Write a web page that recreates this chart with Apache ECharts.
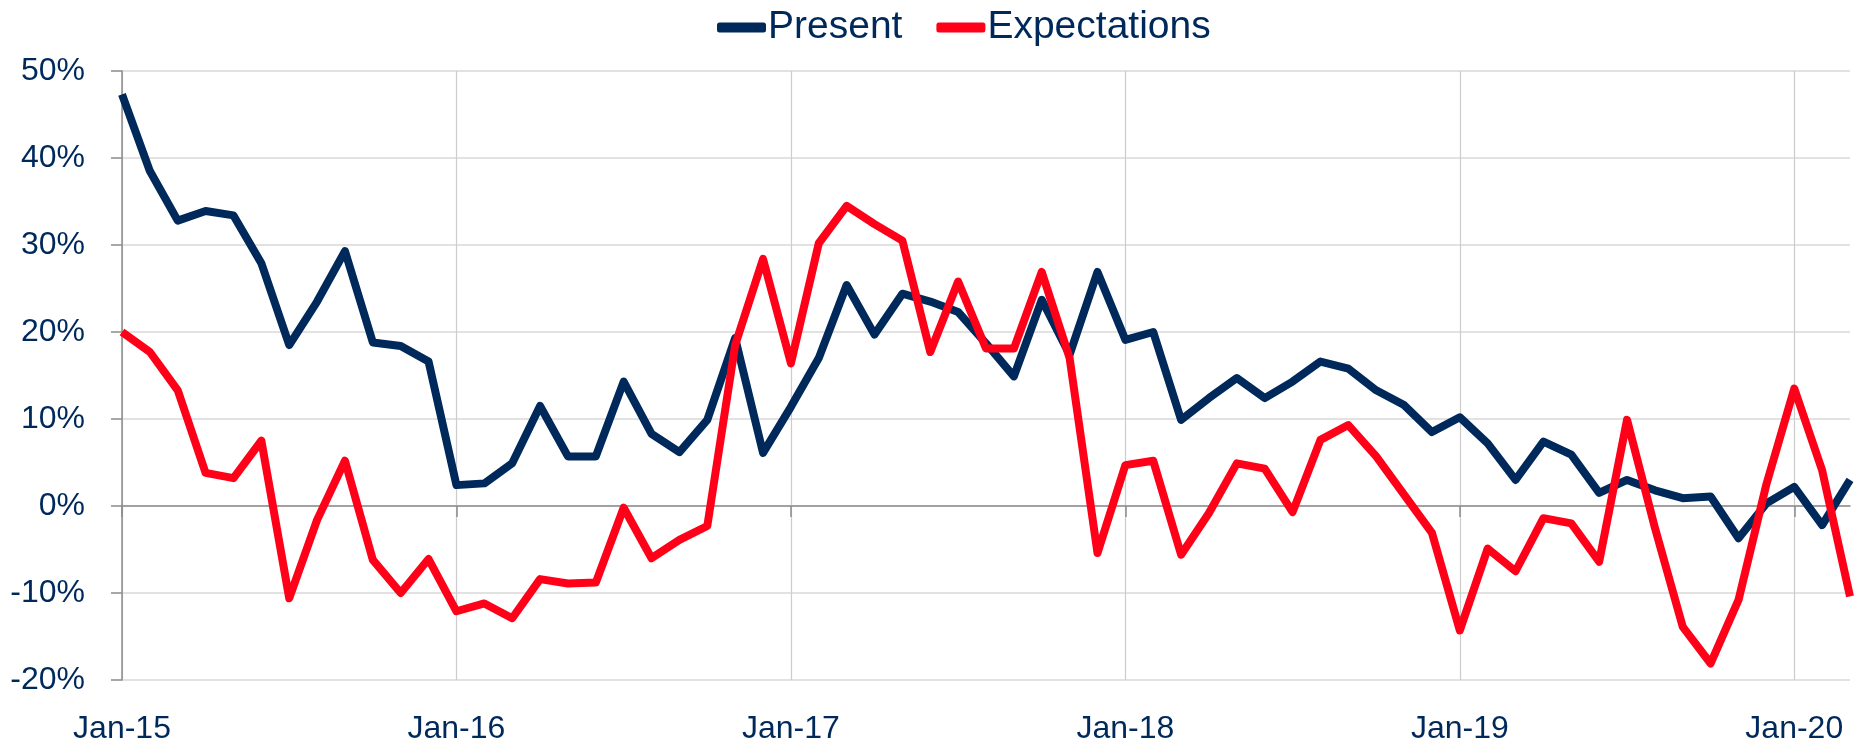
<!DOCTYPE html>
<html>
<head>
<meta charset="utf-8">
<script src="https://cdn.jsdelivr.net/npm/echarts@6/dist/echarts.min.js"></script>
<style>
	html, body { margin: 0; padding: 0; background: #fff; }
	#chart { width: 1860px; height: 749px; }
</style>
</head>
<body>
<div id="chart"></div>
<script>
// monthly, Jan-15 .. Mar-20
var months = ['Jan', 'Feb', 'Mar', 'Apr', 'May', 'Jun', 'Jul', 'Aug', 'Sep', 'Oct', 'Nov', 'Dec'];
var years = ['15', '16', '17', '18', '19', '20'];
var categories = [];
for (var y = 0; y < years.length; y++) {
	for (var m = 0; m < 12; m++) {
		if (y == 5 && m > 2) break;
		categories.push(months[m] + '-' + years[y]);
	}
}

var present = [47.3, 38.5, 32.8, 33.9, 33.4, 27.9, 18.5, 23.5, 29.3, 18.8, 18.4, 16.6,
	2.4, 2.6, 4.9, 11.5, 5.7, 5.7, 14.3, 8.3, 6.2, 9.9, 19.3, 6.1,
	11.4, 17.0, 25.4, 19.7, 24.4, 23.5, 22.3, 18.7, 14.9, 23.7, 17.4, 26.9,
	19.1, 20.0, 9.9, 12.4, 14.7, 12.4, 14.3, 16.6, 15.8, 13.3, 11.6, 8.5,
	10.2, 7.2, 3.0, 7.4, 5.9, 1.5, 3.0, 1.8, 0.9, 1.1, -3.7, 0.3,
	2.2, -2.2, 3.0];

var expectations = [20.0, 17.7, 13.3, 3.8, 3.2, 7.5, -10.6, -1.6, 5.2, -6.2, -10.0, -6.1,
	-12.1, -11.2, -12.9, -8.4, -8.9, -8.8, -0.2, -6.0, -3.9, -2.3, 18.5, 28.4,
	16.4, 30.2, 34.5, 32.4, 30.5, 17.7, 25.8, 18.1, 18.1, 26.9, 17.0, -5.4,
	4.7, 5.2, -5.6, -0.8, 4.9, 4.3, -0.7, 7.6, 9.3, 5.7, 1.3, -3.1,
	-14.3, -4.9, -7.5, -1.4, -2.0, -6.4, 9.9, -2.5, -13.9, -18.1, -10.8, 2.5,
	13.5, 4.1, -10.4];

var navy = '#00295B',
	red = '#FF0018',
	font = '"Liberation Sans", Arial, sans-serif';

var chart = echarts.init(document.getElementById('chart'));

var option = {
	animation: false,
	textStyle: { fontFamily: font },
	legend: {
		left: 712,
		top: 3,
		itemWidth: 49,
		itemHeight: 10,
		itemGap: 34,
		icon: 'roundRect',
		textStyle: { fontSize: 39, color: navy, fontFamily: font, padding: [0, 0, 0, -3] },
		data: ['Present', 'Expectations']
	},
	grid: { left: 122, right: 10, top: 71, bottom: 69 },
	xAxis: [{
		type: 'category',
		data: categories,
		boundaryGap: false,
		axisLine: { onZero: true, lineStyle: { color: '#8C8C8C', width: 1.5 } },
		axisTick: { show: true, interval: 11, length: 11, inside: false, lineStyle: { color: '#8C8C8C', width: 1.5 } },
		axisLabel: { show: false },
		splitLine: { show: true, interval: 11, lineStyle: { color: '#CCCCCC', width: 1.2 } }
	}, {
		type: 'category',
		data: categories,
		boundaryGap: false,
		position: 'bottom',
		axisLine: { show: false, onZero: false },
		axisTick: { show: false },
		splitLine: { show: false },
		axisLabel: { interval: 11, margin: 33, fontSize: 32, color: navy, fontFamily: font }
	}],
	yAxis: {
		type: 'value',
		min: -20,
		max: 50,
		interval: 10,
		axisLine: { show: true, lineStyle: { color: '#8C8C8C', width: 1.5 } },
		axisTick: { show: true, length: 11, lineStyle: { color: '#8C8C8C', width: 1.5 } },
		axisLabel: { formatter: '{value}%', margin: 37, fontSize: 32, color: navy, fontFamily: font },
		splitLine: { lineStyle: { color: '#D9D9D9', width: 1.5 } }
	},
	series: [{
		name: 'Present',
		type: 'line',
		data: present,
		symbol: 'none',
		color: navy,
		lineStyle: { color: navy, width: 8, join: 'round' },
		z: 3
	}, {
		name: 'Expectations',
		type: 'line',
		data: expectations,
		symbol: 'none',
		color: red,
		lineStyle: { color: red, width: 8, join: 'round' },
		z: 4
	}]
};

chart.setOption(option);
</script>
</body>
</html>
